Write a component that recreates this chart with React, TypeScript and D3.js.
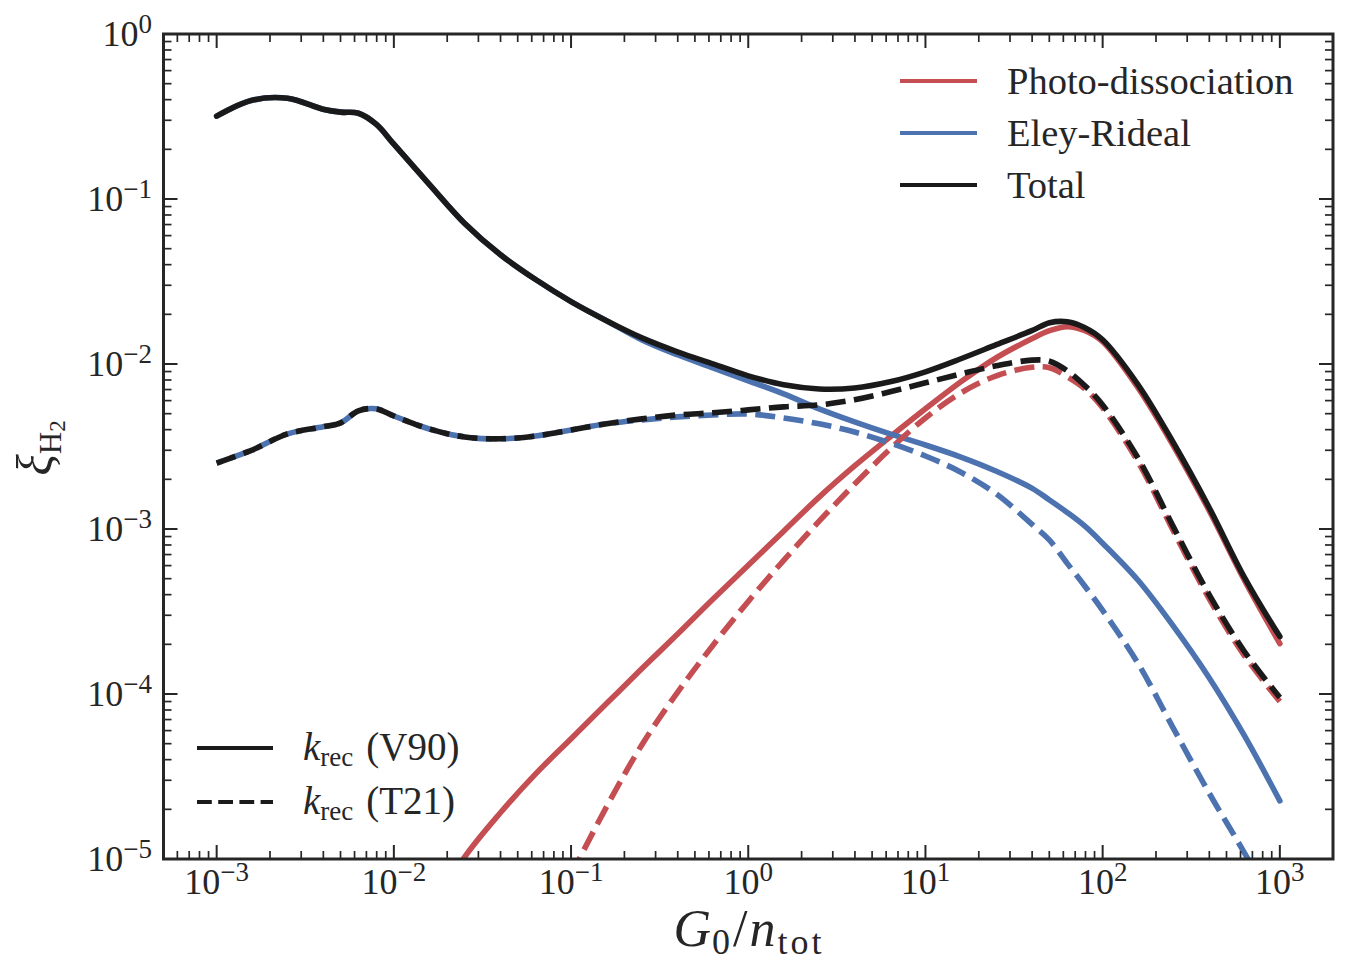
import React from 'react';
import * as d3 from 'd3';

// G0 / n_tot sample points
const G = [
  0.001, 0.001585, 0.002512, 0.003981, 0.005012, 0.00631, 0.007943, 0.01,
  0.01585, 0.02512, 0.03981, 0.0631, 0.1, 0.1585, 0.2512, 0.3981, 0.631,
  1, 1.585, 2.512, 3.981, 6.31, 10, 15.85, 25.12, 39.81, 50.12, 63.1, 79.43,
  100, 158.5, 251.2, 398.1, 631, 1000,
];

// k_rec (V90), solid
const totalV90 = [
  0.318, 0.397, 0.408, 0.35, 0.336, 0.331, 0.284, 0.215,
  0.1227, 0.0711, 0.0461, 0.0325, 0.0239, 0.0183, 0.0144, 0.01186, 0.01003,
  0.00848, 0.00748, 0.00706, 0.00716, 0.0078, 0.00897, 0.01076, 0.01309, 0.01592, 0.01778, 0.01803, 0.0166,
  0.01403, 0.00748, 0.00332, 0.001355, 0.000509, 0.000223,
];
const photoV90: (number | null)[] = [
  null, null, null, null, null, null, null, null,
  4.6e-6, 1.03e-5, 1.9e-5, 3.28e-5, 5.36e-5, 8.75e-5, 1.426e-4, 2.3e-4, 3.75e-4,
  6.03e-4, 9.7e-4, 1.56e-3, 2.41e-3, 3.61e-3, 5.35e-3, 7.8e-3, 0.01091, 0.01422, 0.01592, 0.01683, 0.01592,
  0.01365, 0.00716, 0.00318, 0.0013, 0.000489, 0.000202,
];
const eleyV90 = [
  0.318, 0.397, 0.408, 0.35, 0.336, 0.331, 0.284, 0.215,
  0.1227, 0.0711, 0.0461, 0.0325, 0.0239, 0.0183, 0.014, 0.01138, 0.00948,
  0.00791, 0.00659, 0.00535, 0.00446, 0.00377, 0.00323, 0.00273, 0.00224, 0.00177, 0.0015, 0.00126, 0.00104,
  0.00082, 0.000489, 0.000257, 0.000126, 5.59e-5, 2.25e-5,
];

// k_rec (T21), dashed
const totalT21 = [
  0.00251, 0.00301, 0.00377, 0.00416, 0.0044, 0.0052, 0.00535, 0.00484,
  0.00404, 0.00361, 0.00352, 0.00366, 0.00398, 0.00434, 0.00465, 0.00491, 0.00506,
  0.00527, 0.0055, 0.00565, 0.00607, 0.00678, 0.00769, 0.00871, 0.00975, 0.01055, 0.0104, 0.0091, 0.00738,
  0.00565, 0.00269, 0.001026, 0.000402, 0.000181, 9.51e-5,
];
const photoT21: (number | null)[] = [
  null, null, null, null, null, null, null, null,
  null, null, null, null, 8.0e-6, 2.07e-5, 4.93e-5, 1.02e-4, 1.97e-4,
  3.64e-4, 6.46e-4, 1.115e-3, 1.87e-3, 3.05e-3, 4.71e-3, 6.68e-3, 8.48e-3, 9.55e-3, 9.5e-3, 8.37e-3, 7.06e-3,
  5.42e-3, 2.55e-3, 9.7e-4, 3.8e-4, 1.71e-4, 9.0e-5,
];
const eleyT21 = [
  0.00251, 0.00301, 0.00377, 0.00416, 0.0044, 0.0052, 0.00535, 0.00484,
  0.00404, 0.00361, 0.00352, 0.00366, 0.00398, 0.00434, 0.00458, 0.00478, 0.00491,
  0.00498, 0.00471, 0.00434, 0.00387, 0.00332, 0.00277, 0.00221, 0.00163, 0.00107, 0.000855, 0.000619, 0.00045,
  0.000321, 0.000153, 6.17e-5, 2.52e-5, 1.09e-5, 4.5e-6,
];

const xMajorExp = [-3, -2, -1, 0, 1, 2, 3];
const yMajorExp = [-5, -4, -3, -2, -1, 0];
const minorMult = [2, 3, 4, 5, 6, 7, 8, 9];

const legendTop = ['Photo-dissociation', 'Eley-Rideal', 'Total'];
const legendBottom = ['(V90)', '(T21)'];

const RED = '#C44E52';
const BLUE = '#4C72B0';
const BLACK = '#1a1a1a';
const INK = '#262626';
const FONT = '"Liberation Serif", "DejaVu Serif", serif';

const W = 1357, H = 966;
const L = 163.5, R = 1333, T = 34, B = 859;

const sup = (e: number) => (e < 0 ? '\u2212' + Math.abs(e) : String(e));

export default function App() {
  const x = d3.scaleLog().domain([Math.pow(10, -3.3), Math.pow(10, 3.3)]).range([L, R]);
  const y = d3.scaleLog().domain([1e-5, 1]).range([B, T]);

  const mk = (vals: (number | null)[]) =>
    d3
      .line<number | null>()
      .defined((d) => d != null)
      .x((_, i) => x(G[i]))
      .y((d) => y(d as number))
      .curve(d3.curveCatmullRom.alpha(0.5))(vals) || '';

  const xMinor: number[] = [];
  for (let k = -4; k <= 3; k++)
    for (const m of minorMult) {
      const v = m * Math.pow(10, k);
      const px = x(v);
      if (px > L + 1 && px < R - 1) xMinor.push(v);
    }
  const yMinor: number[] = [];
  for (let k = -5; k <= 0; k++)
    for (const m of minorMult) {
      const v = m * Math.pow(10, k);
      if (v < 1) yMinor.push(v);
    }

  const LW = 5.6;
  const dash = '20,8.5';

  const series = [
    { d: photoV90, c: RED, dashed: false, off: 0 },
    { d: eleyV90, c: BLUE, dashed: false, off: 0 },
    { d: totalV90, c: BLACK, dashed: false, off: 0 },
    { d: photoT21, c: RED, dashed: true, off: 0 },
    { d: eleyT21, c: BLUE, dashed: true, off: 14 },
    { d: totalT21, c: BLACK, dashed: true, off: 0 },
  ];

  const majLen = 14, minLen = 8;

  return (
    <svg
      width={W}
      height={H}
      style={{ position: 'absolute', left: 0, top: 0, background: '#fff' }}
      fontFamily={FONT}
    >
      <defs>
        <clipPath id="plotclip">
          <rect x={L} y={T} width={R - L} height={B - T} />
        </clipPath>
      </defs>
      <rect x={0} y={0} width={W} height={H} fill="#fff" />

      <g clipPath="url(#plotclip)">
        {series.map((s, i) => (
          <path
            key={i}
            d={mk(s.d)}
            fill="none"
            stroke={s.c}
            strokeWidth={LW}
            strokeLinecap={s.dashed ? 'butt' : 'round'}
            strokeLinejoin="round"
            strokeDasharray={s.dashed ? dash : undefined}
            strokeDashoffset={s.off}
          />
        ))}
      </g>

      {/* ticks */}
      <g stroke={INK}>
        {xMajorExp.map((e) => {
          const px = x(Math.pow(10, e));
          return (
            <g key={'xM' + e} strokeWidth={2}>
              <line x1={px} x2={px} y1={B} y2={B - majLen} />
              <line x1={px} x2={px} y1={T} y2={T + majLen} />
            </g>
          );
        })}
        {xMinor.map((v, i) => {
          const px = x(v);
          return (
            <g key={'xm' + i} strokeWidth={1.7}>
              <line x1={px} x2={px} y1={B} y2={B - minLen} />
              <line x1={px} x2={px} y1={T} y2={T + minLen} />
            </g>
          );
        })}
        {yMajorExp.map((e) => {
          const py = y(Math.pow(10, e));
          return (
            <g key={'yM' + e} strokeWidth={2}>
              <line x1={L} x2={L + majLen} y1={py} y2={py} />
              <line x1={R} x2={R - majLen} y1={py} y2={py} />
            </g>
          );
        })}
        {yMinor.map((v, i) => {
          const py = y(v);
          return (
            <g key={'ym' + i} strokeWidth={1.7}>
              <line x1={L} x2={L + minLen} y1={py} y2={py} />
              <line x1={R} x2={R - minLen} y1={py} y2={py} />
            </g>
          );
        })}
      </g>

      <rect x={L} y={T} width={R - L} height={B - T} fill="none" stroke={INK} strokeWidth={3} />

      {/* tick labels */}
      <g fill={INK}>
        {xMajorExp.map((e) => (
          <text key={'xl' + e} x={x(Math.pow(10, e))} y={894} textAnchor="middle" fontSize={36}>
            10
            <tspan fontSize={27} dy={-13}>
              {sup(e)}
            </tspan>
          </text>
        ))}
        {yMajorExp.map((e) => (
          <text key={'yl' + e} x={152} y={y(Math.pow(10, e)) + 12} textAnchor="end" fontSize={36}>
            10
            <tspan fontSize={27} dy={-13}>
              {sup(e)}
            </tspan>
          </text>
        ))}
      </g>

      {/* axis labels */}
      <text x={749} y={946} textAnchor="middle" fontSize={52} fill={INK}>
        <tspan fontStyle="italic">G</tspan>
        <tspan fontSize={36} dy={8} dx={1}>0</tspan>
        <tspan dy={-8} dx={3}>/</tspan>
        <tspan fontStyle="italic" dx={2}>n</tspan>
        <tspan fontSize={36} dy={8} dx={2} letterSpacing={3}>tot</tspan>
      </text>
      <text transform="translate(52,448) rotate(-90)" textAnchor="middle" fontSize={50} fill={INK}>
        <tspan fontStyle="italic">ξ</tspan>
        <tspan fontSize={31} dy={9}>H</tspan>
        <tspan fontSize={23} dy={4}>2</tspan>
      </text>

      {/* legend top right */}
      {legendTop.map((lab, i) => {
        const ly = 81 + i * 52;
        const col = [RED, BLUE, BLACK][i];
        return (
          <g key={'lt' + i}>
            <line x1={900} x2={977} y1={ly} y2={ly} stroke={col} strokeWidth={4} />
            <text x={1007} y={ly + 12.5} fontSize={38.5} fill={INK}>
              {lab}
            </text>
          </g>
        );
      })}

      {/* legend bottom left */}
      {legendBottom.map((lab, i) => {
        const ly = 748 + i * 54;
        return (
          <g key={'lb' + i}>
            <line
              x1={197}
              x2={273}
              y1={ly}
              y2={ly}
              stroke={BLACK}
              strokeWidth={4}
              strokeDasharray={i === 1 ? '14.8,6.4' : undefined}
            />
            <text x={303} y={ly + 12} fontSize={39} fill={INK}>
              <tspan fontStyle="italic">k</tspan>
              <tspan fontSize={27} dy={6}>rec</tspan>
              <tspan dy={-6} dx={13}>{lab}</tspan>
            </text>
          </g>
        );
      })}
    </svg>
  );
}
